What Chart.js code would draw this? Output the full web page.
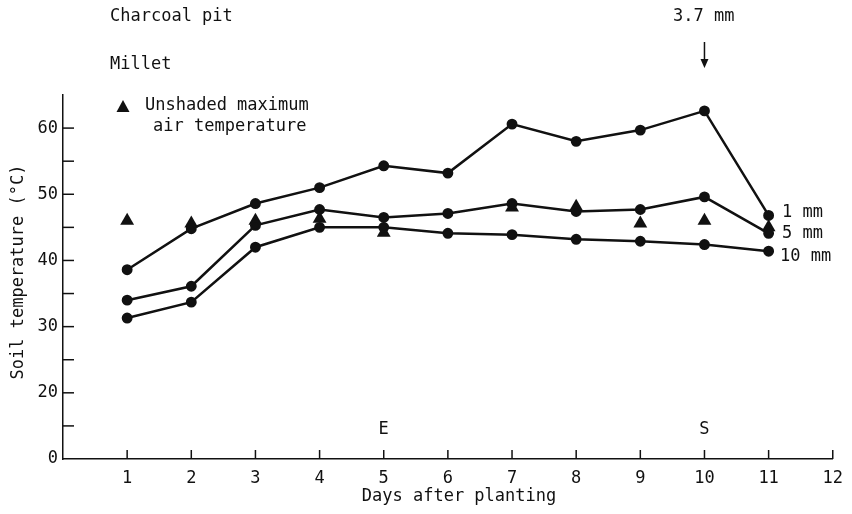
<!DOCTYPE html>
<html>
<head>
<meta charset="utf-8">
<script src="https://cdn.jsdelivr.net/npm/chart.js@4/dist/chart.umd.min.js"></script>
<style>
  html, body { margin: 0; padding: 0; background: #fff; }
  #wrap { width: 852px; height: 514px; }
</style>
</head>
<body>
<div id="wrap"><canvas id="chart" width="852" height="514"></canvas></div>
<script>
// days after planting
var days = [1, 2, 3, 4, 5, 6, 7, 8, 9, 10, 11];
// soil temperature at each depth (deg C)
var depth1mm  = [38.6, 44.8, 48.6, 51.0, 54.3, 53.2, 60.6, 58.0, 59.7, 62.6, 46.8];
var depth5mm  = [34.0, 36.1, 45.3, 47.7, 46.5, 47.1, 48.6, 47.4, 47.7, 49.6, 44.1];
var depth10mm = [31.3, 33.7, 42.0, 45.0, 45.0, 44.1, 43.9, 43.2, 42.9, 42.4, 41.4];
// unshaded maximum air temperature (no reading on day 6)
var airDays = [1, 2, 3, 4, 5, 7, 8, 9, 10, 11];
var airMax  = [46.0, 45.6, 46.0, 46.3, 44.2, 48.0, 48.1, 45.6, 46.0, 45.0];
// y axis is broken: bottom of axis (10) is labelled 0
var yTicks = [10, 20, 30, 40, 50, 60];
var xTicks = [1, 2, 3, 4, 5, 6, 7, 8, 9, 10, 11, 12];

var FONT = '"DejaVu Sans Mono", "Liberation Mono", monospace';
var INK = '#111';

function pts(xs, ys) {
  return xs.map(function (x, i) { return { x: x, y: ys[i] }; });
}

function lineSet(label, data) {
  return {
    label: label,
    data: pts(days, data),
    borderColor: INK,
    backgroundColor: INK,
    borderWidth: 2.5,
    pointRadius: 4.2,
    pointStyle: 'circle',
    showLine: true,
    tension: 0
  };
}

// draws the inward ticks and all the loose text of the figure
var extras = {
  id: 'extras',
  afterDraw: function (chart) {
    var ctx = chart.ctx;
    var xs = chart.scales.x, ys = chart.scales.y;
    var area = chart.chartArea;
    ctx.save();
    ctx.strokeStyle = INK;
    ctx.fillStyle = INK;
    ctx.lineWidth = 1.5;

    // y ticks every 5, pointing into the plot
    for (var v = 15; v <= 60; v += 5) {
      var py = ys.getPixelForValue(v);
      ctx.beginPath();
      ctx.moveTo(area.left, py);
      ctx.lineTo(area.left + 11, py);
      ctx.stroke();
    }
    // x ticks pointing up
    xTicks.forEach(function (d) {
      var px = xs.getPixelForValue(d);
      ctx.beginPath();
      ctx.moveTo(px, area.bottom);
      ctx.lineTo(px, area.bottom - 9);
      ctx.stroke();
    });

    ctx.font = '17px ' + FONT;
    ctx.textBaseline = 'middle';
    ctx.textAlign = 'left';
    ctx.fillText('Charcoal pit', 110, 17);
    ctx.fillText('Millet', 110, 65);
    ctx.fillText('Unshaded maximum', 145, 106);
    ctx.fillText('air temperature', 153, 127);
    // legend triangle
    ctx.beginPath();
    ctx.moveTo(123, 100);
    ctx.lineTo(129.5, 112);
    ctx.lineTo(116.5, 112);
    ctx.closePath();
    ctx.fill();

    // rain note + arrow over day 10
    var x10 = xs.getPixelForValue(10);
    ctx.fillText('3.7 mm', 673, 17);
    ctx.beginPath();
    ctx.moveTo(x10, 42);
    ctx.lineTo(x10, 62);
    ctx.stroke();
    ctx.beginPath();
    ctx.moveTo(x10 - 4, 59);
    ctx.lineTo(x10 + 4, 59);
    ctx.lineTo(x10, 68);
    ctx.closePath();
    ctx.fill();

    // depth labels
    ctx.fillText('1 mm', 782, 213);
    ctx.fillText('5 mm', 782, 234);
    ctx.fillText('10 mm', 780, 257);

    // E and S markers
    ctx.textAlign = 'center';
    ctx.fillText('E', xs.getPixelForValue(5), 430);
    ctx.fillText('S', x10, 430);

    // axis titles
    ctx.fillText('Days after planting', 459, 497);
    ctx.translate(19, 272);
    ctx.rotate(-Math.PI / 2);
    ctx.fillText('Soil temperature (\u00b0C)', 0, 0);
    ctx.restore();
  }
};

var ctx = document.getElementById('chart');
var chart = new Chart(ctx, {
  type: 'line',
  data: {
    datasets: [
      lineSet('1 mm', depth1mm),
      lineSet('5 mm', depth5mm),
      lineSet('10 mm', depth10mm),
      {
        label: 'Unshaded maximum air temperature',
        data: pts(airDays, airMax),
        showLine: false,
        pointStyle: 'triangle',
        pointRadius: 8,
        pointBorderWidth: 0,
        borderColor: INK,
        backgroundColor: INK
      }
    ]
  },
  options: {
    responsive: false,
    animation: false,
    layout: { padding: { top: 95, right: 13, left: 0, bottom: 0 } },
    plugins: { legend: { display: false }, tooltip: { enabled: false } },
    scales: {
      x: {
        type: 'linear',
        min: 0,
        max: 12,
        afterFit: function (s) { s.height = 55; },
        afterBuildTicks: function (s) {
          s.ticks = xTicks.map(function (v) { return { value: v }; });
        },
        grid: { display: false, drawTicks: false },
        border: { display: true, color: INK, width: 1.5 },
        ticks: {
          padding: 9,
          color: INK,
          font: { family: FONT, size: 17 },
          callback: function (v) { return String(v); }
        }
      },
      y: {
        type: 'linear',
        min: 10,
        max: 65,
        afterFit: function (s) { s.width = 63; },
        afterBuildTicks: function (s) {
          s.ticks = yTicks.map(function (v) { return { value: v }; });
        },
        grid: { display: false, drawTicks: false },
        border: { display: true, color: INK, width: 1.5 },
        ticks: {
          padding: 5,
          color: INK,
          font: { family: FONT, size: 17 },
          callback: function (v) { return v === 10 ? '0' : String(v); }
        }
      }
    }
  },
  plugins: [extras]
});
</script>
</body>
</html>
